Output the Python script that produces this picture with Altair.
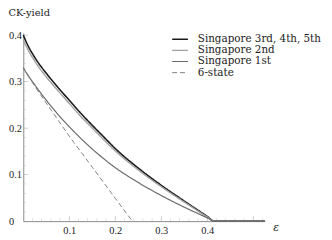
import altair as alt
import pandas as pd

# ---- data ----
eps = [0.0, 0.01, 0.025, 0.05, 0.075, 0.1, 0.125, 0.15, 0.175, 0.2, 0.25, 0.3, 0.35, 0.4, 0.415, 0.525]
sing345 = [0.400, 0.378, 0.352, 0.318, 0.288, 0.260, 0.232, 0.206, 0.181, 0.156, 0.114, 0.077, 0.043, 0.010, 0.0, 0.0]
sing2 = [0.390, 0.369, 0.344, 0.310, 0.281, 0.253, 0.225, 0.200, 0.175, 0.151, 0.110, 0.074, 0.041, 0.009, 0.0, 0.0]
sing1 = [0.330, 0.314, 0.293, 0.260, 0.230, 0.203, 0.178, 0.155, 0.134, 0.115, 0.083, 0.055, 0.030, 0.007, 0.0, 0.0]
eps6 = [0.0, 0.025, 0.05, 0.1, 0.15, 0.2, 0.237]
six_state = [0.330, 0.290, 0.254, 0.183, 0.116, 0.049, 0.0]

series_names = ["Singapore 3rd, 4th, 5th", "Singapore 2nd", "Singapore 1st", "6-state"]
series_colors = ["#1a1a1a", "#a0a0a0", "#6a6a6a", "#808080"]
series_widths = [1.6, 1.0, 1.0, 1.0]
series_dash = [[1, 0], [1, 0], [1, 0], [5, 3]]

x_labels = [0.1, 0.2, 0.3, 0.4]
y_labels = [0.0, 0.1, 0.2, 0.3, 0.4]
major_x = [0.1, 0.2, 0.3, 0.4, 0.5]
minor_x = [0.02, 0.04, 0.06, 0.08, 0.12, 0.14, 0.16, 0.18, 0.22, 0.24, 0.26, 0.28,
           0.32, 0.34, 0.36, 0.38, 0.42, 0.44, 0.46, 0.48, 0.52]
major_y = [0.1, 0.2, 0.3, 0.4]
minor_y = [0.02, 0.04, 0.06, 0.08, 0.12, 0.14, 0.16, 0.18, 0.22, 0.24, 0.26, 0.28,
           0.32, 0.34, 0.36, 0.38]

rows = []
for name, xs_, ys_ in [(series_names[0], eps, sing345), (series_names[1], eps, sing2),
                       (series_names[2], eps, sing1), (series_names[3], eps6, six_state)]:
    for i, (xv, yv) in enumerate(zip(xs_, ys_)):
        rows.append({"series": name, "eps": xv, "yield": yv, "order": i})
df = pd.DataFrame(rows)

FONT = "DejaVu Serif"
TICKFONT = "Liberation Serif"
xs = alt.Scale(domain=[0, 0.525], nice=False, zero=False)
ys = alt.Scale(domain=[0, 0.405], nice=False, zero=False)

lines = alt.Chart(df).mark_line(interpolate="monotone").encode(
    x=alt.X("eps:Q", scale=xs, axis=alt.Axis(
        values=x_labels, format=".1f", ticks=False, tickSize=0, grid=False,
        domainColor="#8a8a8a", domainWidth=1, labelFont=TICKFONT, labelFontSize=10.5,
        labelColor="#222", labelPadding=5,
        title="ε", titleFont=FONT, titleFontSize=11, titleFontStyle="italic",
        titleFontWeight="normal", titleColor="#222", titleAngle=0,
        titleX=253, titleY=6, titleAlign="left", titleBaseline="middle")),
    y=alt.Y("yield:Q", scale=ys, axis=alt.Axis(
        values=y_labels, ticks=False, tickSize=0, grid=False,
        labelExpr="datum.value == 0 ? '0' : format(datum.value, '.1f')",
        domainColor="#8a8a8a", domainWidth=1, labelFont=TICKFONT, labelFontSize=10.5,
        labelColor="#222", labelAlign="left", labelPadding=15,
        title="CK-yield", titleFont=FONT, titleFontSize=10, titleFontWeight="normal",
        titleColor="#222", titleAngle=0, titleAlign="left", titleBaseline="middle",
        titleX=-15.5, titleY=-21)),
    color=alt.Color("series:N", sort=series_names,
                    scale=alt.Scale(domain=series_names, range=series_colors),
                    legend=alt.Legend(title=None)),
    strokeWidth=alt.StrokeWidth("series:N", sort=series_names,
                                scale=alt.Scale(domain=series_names, range=series_widths),
                                legend=alt.Legend(title=None)),
    strokeDash=alt.StrokeDash("series:N", sort=series_names,
                              scale=alt.Scale(domain=series_names, range=series_dash),
                              legend=alt.Legend(title=None)),
    order="order:Q",
)

tx_major = alt.Chart(pd.DataFrame({"v": major_x, "z": 0.0})).mark_tick(
    orient="vertical", size=5, thickness=0.8, color="#aaaaaa", yOffset=-2.5
).encode(x=alt.X("v:Q", scale=xs), y=alt.Y("z:Q", scale=ys))
tx_minor = alt.Chart(pd.DataFrame({"v": minor_x, "z": 0.0})).mark_tick(
    orient="vertical", size=3, thickness=0.6, color="#bbbbbb", yOffset=-1.5
).encode(x=alt.X("v:Q", scale=xs), y=alt.Y("z:Q", scale=ys))
ty_major = alt.Chart(pd.DataFrame({"v": major_y, "z": 0.0})).mark_tick(
    orient="horizontal", size=5, thickness=0.8, color="#aaaaaa", xOffset=2.5
).encode(y=alt.Y("v:Q", scale=ys), x=alt.X("z:Q", scale=xs))
ty_minor = alt.Chart(pd.DataFrame({"v": minor_y, "z": 0.0})).mark_tick(
    orient="horizontal", size=3, thickness=0.6, color="#bbbbbb", xOffset=1.5
).encode(y=alt.Y("v:Q", scale=ys), x=alt.X("z:Q", scale=xs))

chart = alt.layer(tx_major, tx_minor, ty_major, ty_minor, lines).properties(
    width=245, height=191,
    padding={"left": 15.5, "top": 23.5, "right": 60, "bottom": 20},
    autosize=alt.AutoSizeParams(type="none"),
).configure_view(stroke=None).configure_legend(
    orient="none", legendX=150, legendY=1, padding=0,
    symbolType="stroke", symbolSize=256, symbolStrokeColor="#333",
    labelFont=FONT, labelFontSize=10.5, labelColor="#222", labelOffset=9,
    clipHeight=11, rowPadding=0.3, labelLimit=300,
)

chart.save("out.html", embed_options={"renderer": "svg", "actions": False})
